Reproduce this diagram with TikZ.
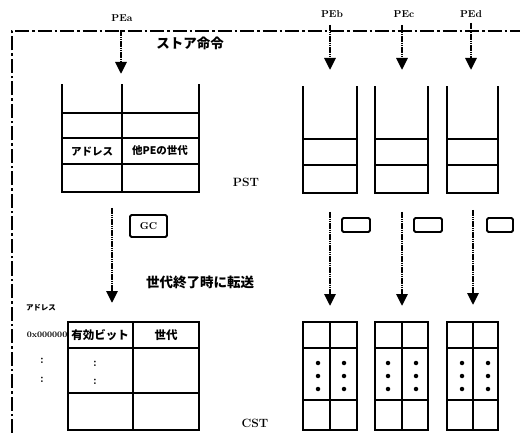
\documentclass[tikz,border=0pt]{standalone}
\usepackage{fontspec}
\newfontfamily\jp{Noto Sans CJK JP}
\usetikzlibrary{arrows.meta}
\begin{document}
\begin{tikzpicture}[x=1pt,y=-1pt,
  frame/.style={line width=2pt,dash pattern=on 14pt off 3pt on 2.5pt off 3pt},
  tbl/.style={line width=2pt,line cap=rect},
  flow/.style={line width=2.8pt,dash pattern=on 1.6pt off 0.6pt,
     -{Triangle[length=12pt,width=11pt]}},
  pe/.style={font=\fontsize{10}{11}\selectfont\bfseries,inner sep=0pt},
  lbl/.style={font=\fontsize{12}{13}\selectfont\bfseries,inner sep=0pt},
  jtxt/.style={font=\jp\bfseries\fontsize{13.5}{15}\selectfont,inner sep=0pt},
  cell/.style={font=\jp\bfseries\fontsize{10.5}{12}\selectfont,inner sep=0pt},
  small/.style={font=\fontsize{8.5}{9}\selectfont\bfseries,inner sep=0pt},
  flag/.style={draw,line width=1.8pt,rounded corners=1.5pt,minimum width=28pt,minimum height=14pt,inner sep=0pt},
  dot/.style={circle,fill,inner sep=0pt,minimum size=4.5pt}]
\useasboundingbox (0,0) rectangle (520,433);

% frame
\coordinate (fbl) at (12,433);
\coordinate (ftl) at (12,31);
\coordinate (ftr) at (520,31);
\draw[frame] (fbl) -- (ftl) -- (ftr);

% PE labels and store arrows
\node[pe] (pea) at (122,18) {PEa};
\node[pe] (peb) at (332,14) {PEb};
\node[pe] (pec) at (404,14) {PEc};
\node[pe] (ped) at (471,14) {PEd};
\coordinate (sa0) at (121,30); \coordinate (sa1) at (121,74);
\coordinate (sb0) at (330,25); \coordinate (sb1) at (330,70);
\coordinate (sc0) at (402,25); \coordinate (sc1) at (402,70);
\coordinate (sd0) at (471,23); \coordinate (sd1) at (471,70);
\draw[flow] (sa0) -- (sa1);
\draw[flow] (sb0) -- (sb1);
\draw[flow] (sc0) -- (sc1);
\draw[flow] (sd0) -- (sd1);
\node[jtxt] (store) at (190,43) {ストア命令};

% PST (left)
\draw[tbl] (62,85) -- (62,192) -- (199,192) -- (199,85);
\draw[tbl] (122,85) -- (122,192);
\draw[tbl] (62,113) -- (199,113);
\draw[tbl] (62,138) -- (199,138);
\draw[tbl] (62,164) -- (199,164);
\node[cell] (addr) at (92,152) {アドレス};
\node[cell] (gen) at (160,151) {他PEの世代};
\node[lbl] (pst) at (246,182) {PST};

% PST (right)
\foreach \l/\r in {303/357,375/428,447/498}{
  \draw[tbl] (\l,87) -- (\l,193) -- (\r,193) -- (\r,87);
  \draw[tbl] (\l,139) -- (\r,139);
  \draw[tbl] (\l,165) -- (\r,165);
}

% GC and transfer arrows
\coordinate (ga0) at (112,208); \coordinate (ga1) at (112,303);
\draw[flow] (ga0) -- (ga1);
\node[flag,minimum width=37pt,minimum height=22pt] (gc) at (148.5,226) {\fontsize{10}{11}\selectfont\bfseries GC};
\node[jtxt] (xfer) at (200,282) {世代終了時に転送};
\coordinate (tb0) at (330,212); \coordinate (tb1) at (330,306);
\coordinate (tc0) at (402,212); \coordinate (tc1) at (402,306);
\coordinate (td0) at (473,210); \coordinate (td1) at (473,305);
\draw[flow] (tb0) -- (tb1);
\draw[flow] (tc0) -- (tc1);
\draw[flow] (td0) -- (td1);
\node[flag] (fb) at (356,225) {};
\node[flag] (fc) at (428,225) {};
\node[flag,minimum width=26pt] (fd) at (500,225) {};

% CST (left)
\draw[tbl] (68,322) rectangle (199,430);
\draw[tbl] (133,322) -- (133,430);
\draw[tbl] (68,348) -- (199,348);
\draw[tbl] (68,393) -- (199,393);
\node[small,font=\jp\bfseries\fontsize{7.5}{8}\selectfont] (addrh) at (41,308) {アドレス};
\node[small,anchor=east] (zero) at (67.5,335) {0x000000};
\node[cell,font=\jp\bfseries\fontsize{11.5}{13}\selectfont] (valid) at (100,335) {有効ビット};
\node[cell,font=\jp\bfseries\fontsize{11.5}{13}\selectfont] (gen2) at (166,335) {世代};
\node[lbl] (c1) at (42,361) {:};
\node[lbl] (c2) at (42,380) {:};
\node[lbl] (c3) at (95,364) {:};
\node[lbl] (c4) at (95,382) {:};
\node[lbl] (cst) at (255,423) {CST};

% CST (right)
\foreach \l/\m/\r/\da/\db in {303/330/357/318/344,375/402/428/388/416,447/473/498/462/488}{
  \draw[tbl] (\l,322) rectangle (\r,430);
  \draw[tbl] (\m,322) -- (\m,430);
  \draw[tbl] (\l,348) -- (\r,348);
  \draw[tbl] (\l,400) -- (\r,400);
  \foreach \y in {363,376,389}{
    \node[dot] at (\da,\y) {};
    \node[dot] at (\db,\y) {};
  }
}
\end{tikzpicture}
\end{document}
